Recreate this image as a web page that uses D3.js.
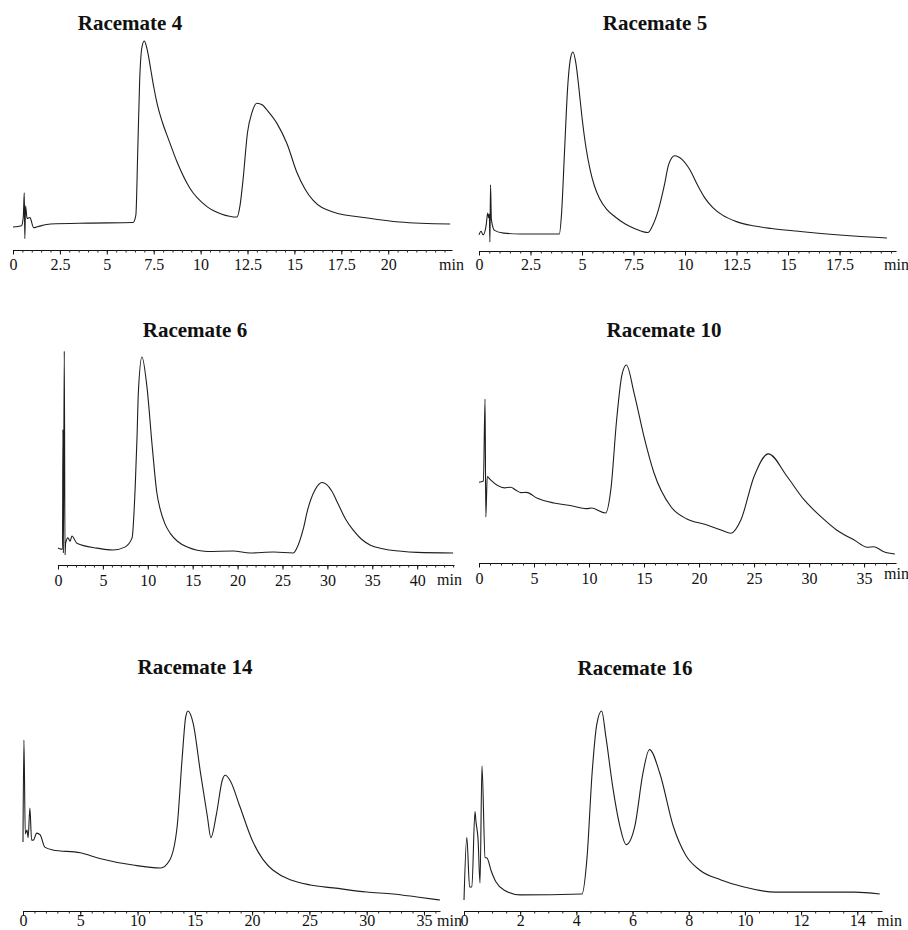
<!DOCTYPE html>
<html>
<head>
<meta charset="utf-8">
<script src="https://cdn.jsdelivr.net/npm/d3@7"></script>
<style>
  html, body { margin: 0; padding: 0; background: #fff; }
  svg { display: block; }
</style>
</head>
<body>
<script>
// ---------- DATA (time in min, relative detector response) ----------
const titles = ["Racemate 4", "Racemate 5", "Racemate 6", "Racemate 10", "Racemate 14", "Racemate 16"];

const racemate4 = [[0,-1.6],[0.45,-1],[0.55,4],[0.6,17],[0.63,-8],[0.67,10],[0.75,3],[0.9,3.5],[1.1,-2],[1.3,-1.5],[2.0,0],[4.0,0.5],[6.4,0.8],[6.55,5],[6.65,40],[6.75,78],[6.88,97],[7.0,100],[7.1,97.5],[7.2,93],[7.35,84],[7.5,75],[7.7,65],[7.95,56],[8.3,46],[8.74,34],[9.43,19.5],[10.34,9.5],[11.1,5.5],[11.94,3.8],[12.1,10],[12.26,24],[12.5,50],[12.74,61],[13.0,66],[13.3,65],[13.54,62.3],[14.07,55],[14.6,44],[15.14,28],[15.57,19],[15.99,13],[17.06,6.6],[18.9,3.3],[20.6,1.1],[23.3,0]];

const racemate5 = [[0,-0.5],[0.1,1.5],[0.2,-0.5],[0.35,5],[0.42,11.5],[0.47,9],[0.5,11],[0.53,-4.4],[0.56,27],[0.6,8],[0.75,2],[1.2,0.5],[2.0,0],[3.9,0],[4.0,10],[4.15,45],[4.3,80],[4.45,97],[4.56,100],[4.7,94],[4.85,80],[5.0,64],[5.2,47],[5.4,35],[5.6,26.5],[5.85,19.5],[6.2,13.5],[6.6,9.5],[7.1,5.5],[7.6,2.8],[8.2,0.8],[8.4,4],[8.7,13],[9.0,27],[9.2,38],[9.5,43],[9.85,41],[10.25,35],[10.6,27],[10.95,20],[11.35,14.5],[11.8,10.5],[12.5,6.8],[13.3,4.5],[14.2,3.0],[15.5,1.5],[16.6,0.3],[18.0,-1],[19.8,-2.2]];

const racemate6 = [[0,2.5],[0.3,2],[0.5,2],[0.55,63],[0.6,0],[0.7,103],[0.78,-1],[0.85,5],[1.1,7.7],[1.35,6],[1.55,8.7],[2.1,5],[4.35,2.5],[6.1,1.5],[7.45,3],[8.25,7.7],[8.6,34],[8.8,59],[8.95,82],[9.35,100],[9.9,85],[10.5,54],[11.0,31],[11.4,22],[11.9,15],[12.5,10],[13.3,6],[14.4,3],[16.6,0.8],[19.5,1],[21.4,0],[24,0.5],[26.2,0],[26.6,2.5],[27.3,12],[27.8,22],[28.6,32],[29.4,36],[29.9,35],[30.5,31.5],[31.2,25],[32.0,17.5],[32.9,11.5],[33.8,7],[34.8,4],[36.0,2.3],[38,1],[40,0.3],[44,0]];

const racemate10 = [[0,38],[0.4,38.6],[0.55,82],[0.62,19.6],[0.75,41],[1.0,39.5],[2.3,35],[2.9,35.3],[3.3,34],[3.8,32.5],[4.3,32.6],[5.3,29.5],[6.8,27],[8.4,25.5],[9.8,24],[10.2,24.3],[11.5,21.7],[12.0,35],[12.5,70.4],[13.0,95],[13.4,100],[14.1,85],[15.0,62],[15.9,43],[17.45,25],[18.9,18.5],[20.6,15.6],[22.0,12.7],[22.9,11],[23.8,18],[25.0,41],[26.3,53],[28.0,41],[29.5,29],[31.1,19.6],[32.5,12.7],[34.1,7.4],[35.3,3.6],[35.9,3.8],[36.8,1.2],[37.8,0]];

const racemate14 = [[0,30.7],[0.08,84.6],[0.2,35],[0.35,37],[0.45,33],[0.6,48.7],[0.75,31.7],[0.9,31.7],[1.2,35.4],[1.5,34.4],[1.9,28],[2.6,26.5],[5,25],[6.7,22],[9.6,18.5],[12.0,16.9],[12.8,21],[13.45,38.6],[13.9,75.7],[14.2,96.8],[14.4,100],[14.85,93.6],[15.5,67],[16.1,43.9],[16.4,33],[16.9,46],[17.4,63.5],[17.65,66],[18.1,63],[18.9,50],[20.0,31.7],[21.8,15.9],[25.1,7.9],[27.1,6.4],[30.0,4.2],[32.3,3.2],[34.4,1.6],[36.4,0]];

const racemate16 = [[0,-3.3],[0.1,31],[0.2,3.8],[0.28,3.8],[0.39,45],[0.43,39],[0.5,30],[0.57,6],[0.64,70],[0.75,20],[0.82,19.7],[0.96,13],[1.14,6.5],[1.42,2.2],[2.0,-0.5],[4.2,0],[4.38,20],[4.56,66],[4.73,93],[4.9,100],[5.05,86],[5.3,58],[5.55,37],[5.77,27],[6.08,37],[6.37,66],[6.6,79],[6.97,66],[7.45,37],[7.9,21],[8.4,13],[9.15,7.7],[9.97,3.8],[11.1,1],[12.7,1],[13.9,1],[14.8,0]];

const ticks4  = [0, 2.5, 5, 7.5, 10, 12.5, 15, 17.5, 20];
const ticks5  = [0, 2.5, 5, 7.5, 10, 12.5, 15, 17.5];
const ticks6  = [0, 5, 10, 15, 20, 25, 30, 35, 40];
const ticks10 = [0, 5, 10, 15, 20, 25, 30, 35];
const ticks14 = [0, 5, 10, 15, 20, 25, 30, 35];
const ticks16 = [0, 2, 4, 6, 8, 10, 12, 14];
const unitLabel = "min";

// ---------- LAYOUT ----------
const panels = [
  {title: titles[0], data: racemate4,  ticks: ticks4,  minor: 0.5, tmax: 23.4,  x0: 13,  x1: 452, yAxis: 250, yBase: 224, yTop: 41,  tx: 130, ty: 30,  ly: 270, mx: 439, my: 270},
  {title: titles[1], data: racemate5,  ticks: ticks5,  minor: 0.5, tmax: 20.24, x0: 479, x1: 896, yAxis: 251, yBase: 234, yTop: 52,  tx: 655, ty: 30,  ly: 270, mx: 884, my: 270},
  {title: titles[2], data: racemate6,  ticks: ticks6,  minor: 1,   tmax: 44.1,  x0: 58,  x1: 454, yAxis: 565, yBase: 553, yTop: 357, tx: 195, ty: 337, ly: 586, mx: 437, my: 585},
  {title: titles[3], data: racemate10, ticks: ticks10, minor: 1,   tmax: 37.9,  x0: 479, x1: 896, yAxis: 563, yBase: 554, yTop: 365, tx: 664, ty: 337, ly: 584, mx: 884, my: 579},
  {title: titles[4], data: racemate14, ticks: ticks14, minor: 1,   tmax: 36.4,  x0: 23,  x1: 440, yAxis: 911, yBase: 900, yTop: 711, tx: 195, ty: 674, ly: 926, mx: 437, my: 926},
  {title: titles[5], data: racemate16, ticks: ticks16, minor: 0.5, tmax: 14.88, x0: 464, x1: 882, yAxis: 911, yBase: 894, yTop: 711, tx: 635, ty: 675, ly: 926, mx: 877, my: 926}
];

const FONT = "'Liberation Serif', 'Times New Roman', Times, serif";

const svg = d3.select("body").append("svg")
  .attr("width", 908).attr("height", 930)
  .style("background", "#fff");

panels.forEach(p => {
  const x = d3.scaleLinear().domain([0, p.tmax]).range([p.x0, p.x1]);
  const y = d3.scaleLinear().domain([0, 100]).range([p.yBase, p.yTop]);
  const g = svg.append("g");

  // title
  g.append("text")
    .attr("x", p.tx).attr("y", p.ty)
    .attr("text-anchor", "middle")
    .style("font-family", FONT)
    .style("font-weight", "bold")
    .style("font-size", "21px")
    .attr("fill", "#111")
    .text(p.title);

  // minor ticks + axis line
  const minorVals = d3.range(0, p.tmax + 1e-9, p.minor);
  const minorAxis = d3.axisBottom(x).tickValues(minorVals).tickSize(2.5).tickSizeOuter(0).tickFormat("");
  const gMinor = g.append("g").attr("transform", `translate(0,${p.yAxis})`).call(minorAxis);
  gMinor.select(".domain").attr("stroke", "#111").attr("stroke-width", 1.1);
  gMinor.selectAll(".tick line").attr("stroke", "#222");

  // major ticks + labels
  const majorAxis = d3.axisBottom(x).tickValues(p.ticks).tickSize(4.5).tickSizeOuter(0).tickFormat(d => String(d));
  const gMajor = g.append("g").attr("transform", `translate(0,${p.yAxis})`).call(majorAxis);
  gMajor.select(".domain").remove();
  gMajor.selectAll(".tick line").attr("stroke", "#111");
  gMajor.selectAll(".tick text")
    .attr("dy", null)
    .attr("y", p.ly - p.yAxis)
    .attr("fill", "#111")
    .style("font-family", FONT)
    .style("font-size", "16px");

  // unit label
  g.append("text")
    .attr("x", p.mx).attr("y", p.my)
    .style("font-family", FONT)
    .style("font-size", "16px")
    .attr("fill", "#111")
    .text(unitLabel);

  // chromatogram trace
  const line = d3.line().x(d => x(d[0])).y(d => y(d[1])).curve(d3.curveMonotoneX);
  g.append("path")
    .datum(p.data)
    .attr("d", line)
    .attr("fill", "none")
    .attr("stroke", "#1e1e1e")
    .attr("stroke-width", 1.1)
    .attr("stroke-linejoin", "round");
});
</script>
</body>
</html>
